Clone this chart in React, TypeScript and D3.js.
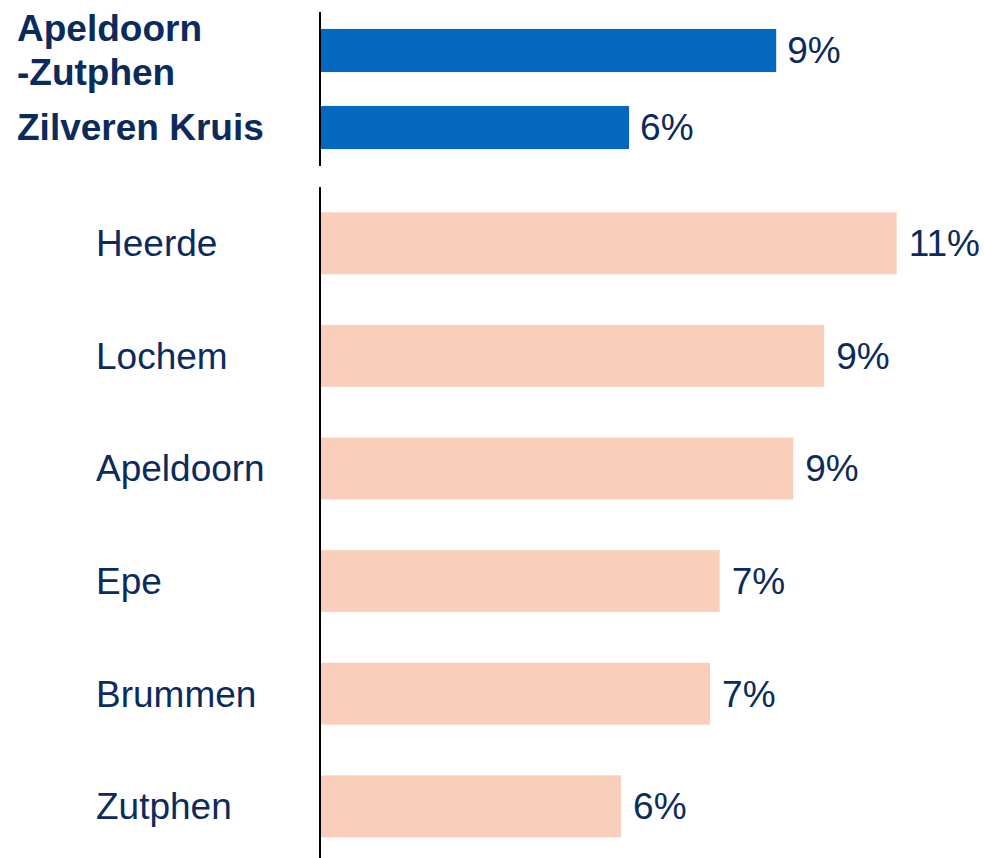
import React from "react";
import * as d3 from "d3";

const topCategories = ["Apeldoorn\n-Zutphen", "Zilveren Kruis"];
const topValues = [8.54, 5.78];
const bottomCategories = ["Heerde", "Lochem", "Apeldoorn", "Epe", "Brummen", "Zutphen"];
const bottomValues = [10.8, 9.44, 8.86, 7.48, 7.3, 5.63];

const W = 984;
const H = 858;
const AXIS_X = 320;
const TEXT = "#0B2B5C";
const BLUE = "#0469BE";
const SALMON = "#F9CEBA";
const FONT = "'Liberation Sans', Arial, sans-serif";
const FS = 37;

export default function App() {
  const x = d3.scaleLinear().domain([0, 10]).range([AXIS_X + 1, AXIS_X + 1 + 533]);
  const yTop = d3.scaleBand<string>().domain(topCategories).range([12, 166]).paddingInner(0.44).paddingOuter(0.22);
  const yBot = d3.scaleBand<string>().domain(bottomCategories).range([187, 862.6]).paddingInner(0.45).paddingOuter(0.225);
  const fmt = (v: number) => `${d3.format(".0f")(v)}%`;

  return (
    <svg width={W} height={H} style={{ position: "absolute", left: 0, top: 0, display: "block" }} fontFamily={FONT}>
      <rect width={W} height={H} fill="#fff" />
      {topCategories.map((c, i) => {
        const yc = (yTop(c) ?? 0) + yTop.bandwidth() / 2;
        const lines = c.split("\n");
        const lh = 44;
        return (
          <g key={c}>
            <rect x={x(0)} y={yTop(c)} width={x(topValues[i]) - x(0)} height={yTop.bandwidth()} fill={BLUE} />
            <text x={x(topValues[i]) + 11} y={yc} dy="0.35em" fontSize={FS} fill={TEXT}>{fmt(topValues[i])}</text>
            {lines.map((l, j) => (
              <text key={j} x={17} y={yc + (j - (lines.length - 1) / 2) * lh} dy="0.35em" fontSize={FS} fontWeight="bold" fill={TEXT}>{l}</text>
            ))}
          </g>
        );
      })}
      {bottomCategories.map((c, i) => {
        const yc = (yBot(c) ?? 0) + yBot.bandwidth() / 2;
        return (
          <g key={c}>
            <rect x={x(0)} y={yBot(c)} width={x(bottomValues[i]) - x(0)} height={yBot.bandwidth()} fill={SALMON} />
            <text x={x(bottomValues[i]) + 12} y={yc} dy="0.35em" fontSize={FS} fill={TEXT}>{fmt(bottomValues[i])}</text>
            <text x={96} y={yc} dy="0.35em" fontSize={FS} fill={TEXT}>{c}</text>
          </g>
        );
      })}
      <line x1={AXIS_X} x2={AXIS_X} y1={12} y2={166} stroke="#000" strokeWidth={2} />
      <line x1={AXIS_X} x2={AXIS_X} y1={187} y2={H} stroke="#000" strokeWidth={2} />
    </svg>
  );
}
